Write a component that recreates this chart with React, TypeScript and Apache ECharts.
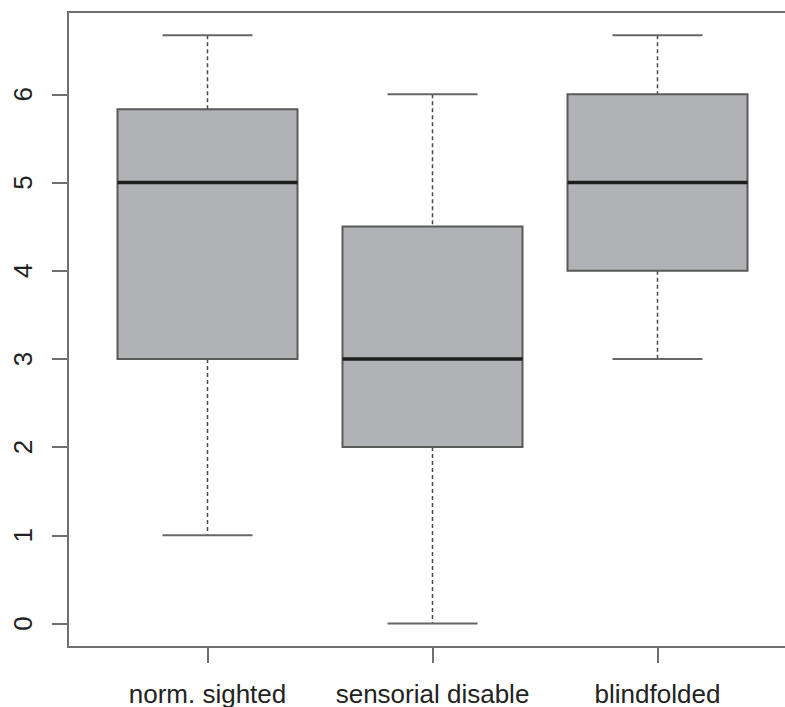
import React, { useEffect, useRef } from "react";
import * as echarts from "echarts";

const categories = ["norm. sighted", "sensorial disable", "blindfolded"];
const positions = [1, 2, 3];
const mins = [1, 0, 3];
const q1s = [3, 2, 4];
const medians = [5, 3, 5];
const q3s = [5.83, 4.5, 6];
const maxs = [6.67, 6, 6.67];
const yTicks = [0, 1, 2, 3, 4, 5, 6];

const BOX_HALF = 0.4;
const CAP_HALF = 0.2;

export default function App() {
  const ref = useRef<HTMLDivElement>(null);
  useEffect(() => {
    document.body.style.margin = "0";
    const chart = echarts.init(ref.current!, undefined, { renderer: "svg" });
    const data = positions.map((p, i) => [p, mins[i], q1s[i], medians[i], q3s[i], maxs[i]]);
    const font = { fontFamily: "Liberation Sans, Arial, sans-serif", fontSize: 26, color: "#222" };
    chart.setOption({
      animation: false,
      backgroundColor: "#fff",
      grid: {
        left: 68,
        top: 12,
        width: 729,
        height: 635,
        show: true,
        borderColor: "#707070",
        borderWidth: 2,
        backgroundColor: "transparent",
        outerBoundsMode: "none",
        containLabel: false,
      },
      xAxis: {
        type: "value",
        min: 0.38,
        max: 3.62,
        splitLine: { show: false },
        axisLine: { show: false, onZero: false },
        axisTick: { show: true, customValues: positions, length: 16, lineStyle: { color: "#707070", width: 2 } },
        axisLabel: {
          ...font,
          customValues: positions,
          margin: 34,
          formatter: (v: number) => categories[Math.round(v) - 1] ?? "",
        },
      },
      yAxis: {
        type: "value",
        min: -0.2667,
        max: 6.9333,
        splitLine: { show: false },
        axisLine: { show: false, onZero: false },
        axisTick: { show: true, customValues: yTicks, length: 16, lineStyle: { color: "#707070", width: 2 } },
        axisLabel: {
          ...font,
          customValues: yTicks,
          rotate: 90,
          margin: 32,
        },
      },
      series: [
        {
          type: "custom",
          data,
          encode: { x: 0, y: [1, 2, 3, 4, 5] },
          clip: false,
          renderItem: (params: any, api: any) => {
            const x = api.value(0);
            const mn = api.value(1);
            const q1 = api.value(2);
            const md = api.value(3);
            const q3 = api.value(4);
            const mx = api.value(5);
            const tl = api.coord([x - BOX_HALF, q3]);
            const br = api.coord([x + BOX_HALF, q1]);
            const c = api.coord([x, md]);
            const pMax = api.coord([x, mx]);
            const pMin = api.coord([x, mn]);
            const capL = api.coord([x - CAP_HALF, mx])[0];
            const capR = api.coord([x + CAP_HALF, mx])[0];
            const whiskerStyle = { stroke: "#4a4a4a", lineWidth: 1.5, lineDash: [4, 3] };
            const capStyle = { stroke: "#666", lineWidth: 2 };
            return {
              type: "group",
              children: [
                { type: "line", shape: { x1: c[0], y1: pMax[1], x2: c[0], y2: tl[1] }, style: whiskerStyle },
                { type: "line", shape: { x1: c[0], y1: br[1], x2: c[0], y2: pMin[1] }, style: whiskerStyle },
                { type: "line", shape: { x1: capL, y1: pMax[1], x2: capR, y2: pMax[1] }, style: capStyle },
                { type: "line", shape: { x1: capL, y1: pMin[1], x2: capR, y2: pMin[1] }, style: capStyle },
                {
                  type: "rect",
                  shape: { x: tl[0], y: tl[1], width: br[0] - tl[0], height: br[1] - tl[1] },
                  style: { fill: "#b1b2b6", stroke: "#5a5a5a", lineWidth: 2 },
                },
                { type: "line", shape: { x1: tl[0], y1: c[1], x2: br[0], y2: c[1] }, style: { stroke: "#1e1e1e", lineWidth: 3.5 } },
              ],
            };
          },
        },
      ],
    });
    return () => chart.dispose();
  }, []);
  return <div ref={ref} style={{ position: "fixed", left: 0, top: 0, width: 785, height: 707 }} />;
}
